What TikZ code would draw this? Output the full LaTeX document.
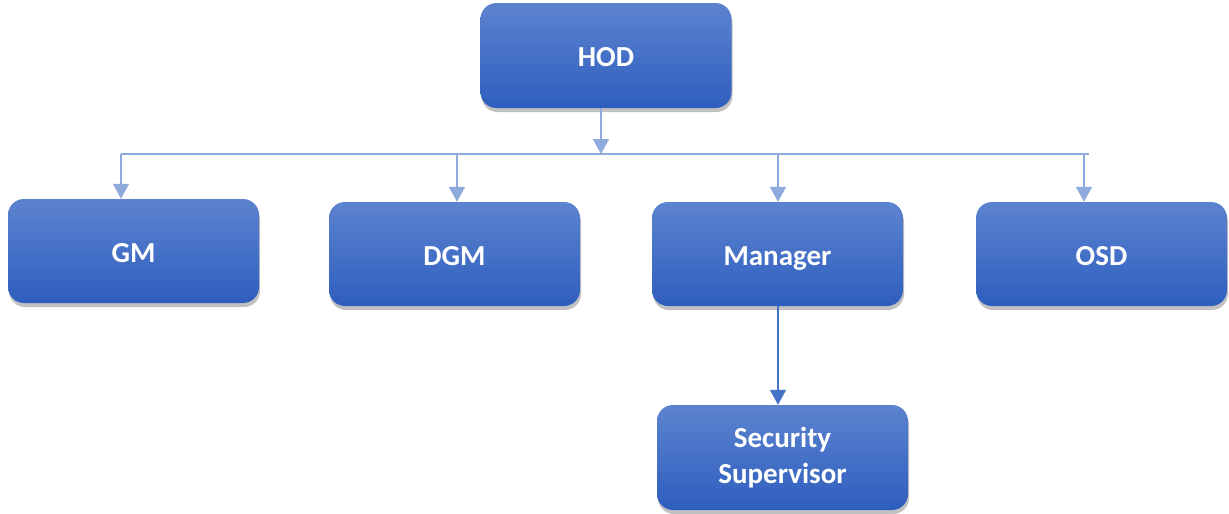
\documentclass[tikz,border=0pt]{standalone}
\usepackage{fontspec}
\setmainfont{Carlito}
\usetikzlibrary{arrows.meta,shadows,calc}
\definecolor{boxtop}{RGB}{92,131,207}
\definecolor{boxbot}{RGB}{46,94,190}
\definecolor{lightline}{RGB}{143,170,220}
\definecolor{darkline}{RGB}{68,114,196}
\tikzset{
  orgbox/.style={rounded corners=16pt, minimum width=251pt, minimum height=104pt,
    top color=boxtop, bottom color=boxbot, draw=none, text=white,
    font=\fontsize{29}{36}\selectfont\bfseries, align=center,
    text height=28pt, text depth=5.5pt,
    drop shadow={shadow xshift=1pt, shadow yshift=-4pt, opacity=0.35, fill=black!70}},
  lconn/.style={draw=lightline, line width=1.5pt},
  larrow/.style={lconn, -{Triangle[width=16pt,length=15pt]}, color=lightline},
  darrow/.style={draw=darkline, line width=1.5pt, -{Triangle[width=16pt,length=15pt]}, color=darkline}
}
\begin{document}
\begin{tikzpicture}[x=1pt,y=-1pt]
\useasboundingbox (0,0) rectangle (1229,514);
\node[orgbox, minimum height=105pt] (hod) at (606,55.5) {HOD};
\node[orgbox] (gm) at (133.5,251) {GM};
\node[orgbox] (dgm) at (454.5,254) {DGM};
\node[orgbox] (mgr) at (777.5,254) {Manager};
\node[orgbox, minimum height=105pt, text height=, text depth=] (sec) at (782.5,457.5) {Security\\Supervisor};
\node[orgbox] (osd) at (1101.5,254) {OSD};
\coordinate (bar) at (601,154);
\coordinate (barL) at (121,154);
\coordinate (barR) at (1089,154);
\coordinate (d1) at (121,154);
\coordinate (d2) at (457,154);
\coordinate (d3) at (778,154);
\coordinate (d4) at (1084,154);
\draw[larrow] (hod.south -| bar) -- (bar);
\draw[lconn] (barL) -- (barR);
\draw[larrow] (d1) -- (d1 |- gm.north);
\draw[larrow] (d2) -- (d2 |- dgm.north);
\draw[larrow] (d3) -- (d3 |- mgr.north);
\draw[larrow] (d4) -- (d4 |- osd.north);
\draw[darrow] (mgr.south -| d3) -- (d3 |- sec.north);
\end{tikzpicture}
\end{document}
